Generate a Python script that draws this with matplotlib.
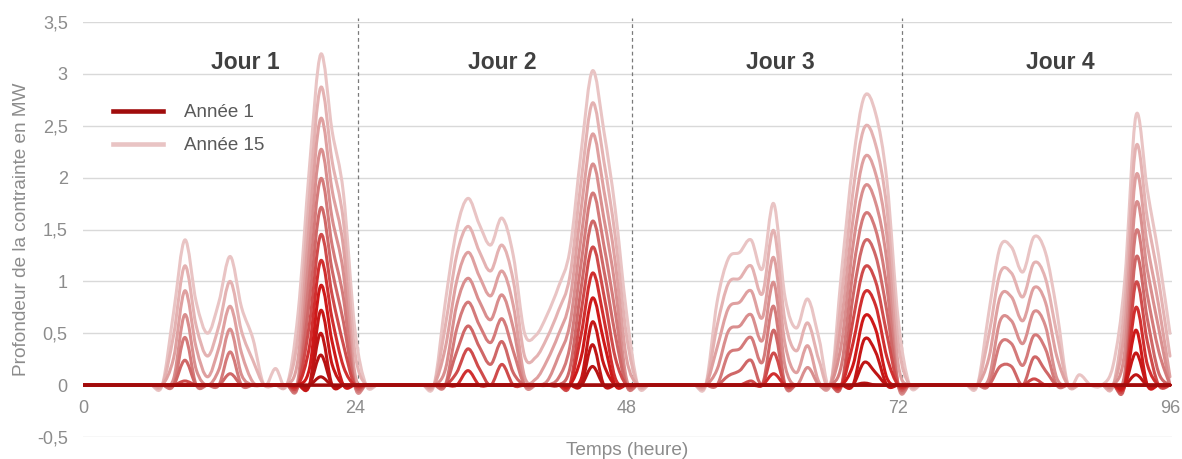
import numpy as np
import matplotlib
matplotlib.use("Agg")
import matplotlib.pyplot as plt
from matplotlib.path import Path
from matplotlib.patches import PathPatch
from matplotlib.lines import Line2D
from matplotlib.colors import LinearSegmentedColormap

plt.rcParams['font.family'] = ['Liberation Sans', 'DejaVu Sans']

# hourly constraint depth (MW) over 4 days, one list per year
heures = list(range(97))

annee_15 = [
    0, 0, 0, 0, 0, 0, 0, 0, 0.70, 1.40, 0.80, 0.50, 0.80, 1.24, 0.75, 0.45, 0, 0.16, 0, 0.70, 2.10, 3.19, 2.45, 1.85,
    0.55, 0, 0, 0, 0, 0, 0, 0, 0.80, 1.50, 1.80, 1.55, 1.35, 1.61, 1.25, 0.50, 0.48, 0.68, 0.95, 1.30, 2.25, 3.03, 2.45, 1.70,
    0.70, 0, 0, 0, 0, 0, 0, 0, 0.80, 1.22, 1.28, 1.40, 1.12, 1.75, 0.85, 0.55, 0.83, 0.45, 0, 1.10, 2.14, 2.78, 2.62, 1.97,
    0.63, 0, 0, 0, 0, 0, 0, 0, 0.70, 1.33, 1.33, 1.09, 1.43, 1.28, 0.72, 0, 0.10, 0, 0, 0.20, 1.00, 2.60, 1.88, 1.25,
    0.50]
annee_14 = [
    0, 0, 0, 0, 0, 0, 0, 0, 0.48, 1.15, 0.57, 0.28, 0.57, 1.00, 0.52, 0.24, 0, 0, 0, 0.48, 1.82, 2.87, 2.16, 1.58,
    0.33, 0, 0, 0, 0, 0, 0, 0, 0.57, 1.25, 1.53, 1.29, 1.10, 1.35, 1.01, 0.28, 0.27, 0.46, 0.72, 1.05, 1.97, 2.72, 2.16, 1.44,
    0.48, 0, 0, 0, 0, 0, 0, 0, 0.57, 0.98, 1.03, 1.15, 0.88, 1.49, 0.62, 0.33, 0.60, 0.24, 0, 0.86, 1.86, 2.48, 2.32, 1.70,
    0.41, 0, 0, 0, 0, 0, 0, 0, 0.48, 1.08, 1.08, 0.85, 1.18, 1.03, 0.50, 0, 0, 0, 0, 0, 0.77, 2.30, 1.61, 1.01,
    0.28]
annee_13 = [
    0, 0, 0, 0, 0, 0, 0, 0, 0.26, 0.91, 0.36, 0.08, 0.36, 0.76, 0.31, 0.03, 0, 0, 0, 0.26, 1.56, 2.57, 1.88, 1.33,
    0.12, 0, 0, 0, 0, 0, 0, 0, 0.36, 1.00, 1.28, 1.05, 0.86, 1.10, 0.77, 0.08, 0.06, 0.24, 0.49, 0.82, 1.70, 2.42, 1.88, 1.19,
    0.26, 0, 0, 0, 0, 0, 0, 0, 0.36, 0.74, 0.80, 0.91, 0.65, 1.23, 0.40, 0.12, 0.38, 0.03, 0, 0.63, 1.59, 2.19, 2.04, 1.44,
    0.20, 0, 0, 0, 0, 0, 0, 0, 0.26, 0.85, 0.85, 0.62, 0.94, 0.80, 0.28, 0, 0, 0, 0, 0, 0.54, 2.02, 1.35, 0.77,
    0.08]
annee_12 = [
    0, 0, 0, 0, 0, 0, 0, 0, 0.06, 0.68, 0.15, 0, 0.15, 0.54, 0.10, 0, 0, 0, 0, 0.06, 1.30, 2.27, 1.61, 1.08,
    0, 0, 0, 0, 0, 0, 0, 0, 0.15, 0.77, 1.03, 0.81, 0.63, 0.87, 0.55, 0, 0, 0.04, 0.28, 0.59, 1.43, 2.13, 1.61, 0.95,
    0.06, 0, 0, 0, 0, 0, 0, 0, 0.15, 0.52, 0.57, 0.68, 0.43, 0.99, 0.19, 0, 0.17, 0, 0, 0.41, 1.34, 1.91, 1.76, 1.19,
    0, 0, 0, 0, 0, 0, 0, 0, 0.06, 0.62, 0.62, 0.40, 0.71, 0.57, 0.07, 0, 0, 0, 0, 0, 0.32, 1.75, 1.11, 0.55,
    0]
annee_11 = [
    0, 0, 0, 0, 0, 0, 0, 0, 0, 0.46, 0, 0, 0, 0.32, 0, 0, 0, 0, 0, 0, 1.05, 1.99, 1.35, 0.84,
    0, 0, 0, 0, 0, 0, 0, 0, 0, 0.54, 0.80, 0.58, 0.41, 0.64, 0.33, 0, 0, 0, 0.07, 0.37, 1.18, 1.85, 1.35, 0.71,
    0, 0, 0, 0, 0, 0, 0, 0, 0, 0.30, 0.35, 0.46, 0.22, 0.76, 0, 0, 0, 0, 0, 0.20, 1.09, 1.64, 1.50, 0.94,
    0, 0, 0, 0, 0, 0, 0, 0, 0, 0.40, 0.40, 0.19, 0.48, 0.35, 0, 0, 0, 0, 0, 0, 0.11, 1.48, 0.87, 0.33,
    0]
annee_10 = [
    0, 0, 0, 0, 0, 0, 0, 0, 0, 0.24, 0, 0, 0, 0.11, 0, 0, 0, 0, 0, 0, 0.82, 1.71, 1.11, 0.61,
    0, 0, 0, 0, 0, 0, 0, 0, 0, 0.32, 0.57, 0.37, 0.20, 0.42, 0.12, 0, 0, 0, 0, 0.16, 0.94, 1.58, 1.11, 0.49,
    0, 0, 0, 0, 0, 0, 0, 0, 0, 0.09, 0.14, 0.24, 0.01, 0.53, 0, 0, 0, 0, 0, 0, 0.85, 1.38, 1.25, 0.71,
    0, 0, 0, 0, 0, 0, 0, 0, 0, 0.18, 0.18, 0, 0.27, 0.14, 0, 0, 0, 0, 0, 0, 0, 1.23, 0.64, 0.12,
    0]
annee_09 = [
    0, 0, 0, 0, 0, 0, 0, 0, 0, 0.04, 0, 0, 0, 0, 0, 0, 0, 0, 0, 0, 0.59, 1.45, 0.87, 0.39,
    0, 0, 0, 0, 0, 0, 0, 0, 0, 0.12, 0.35, 0.16, 0, 0.20, 0, 0, 0, 0, 0, 0, 0.71, 1.33, 0.87, 0.27,
    0, 0, 0, 0, 0, 0, 0, 0, 0, 0, 0, 0.04, 0, 0.31, 0, 0, 0, 0, 0, 0, 0.62, 1.13, 1.00, 0.49,
    0, 0, 0, 0, 0, 0, 0, 0, 0, 0, 0, 0, 0.06, 0, 0, 0, 0, 0, 0, 0, 0, 0.99, 0.42, 0,
    0]
annee_08 = ([0] * 20 + [0.37, 1.20, 0.64, 0.18] + [0] * 10 + [0.14] + [0] * 9 + [0.49, 1.08, 0.64, 0.07]
            + [0] * 13 + [0.11] + [0] * 6 + [0.40, 0.89, 0.77, 0.27] + [0] * 21 + [0.75, 0.20] + [0] * 2)
annee_07 = ([0] * 20 + [0.16, 0.96, 0.42] + [0] * 21 + [0.27, 0.84, 0.42] + [0] * 21
            + [0.19, 0.66, 0.54, 0.07] + [0] * 21 + [0.53] + [0] * 3)
annee_06 = ([0] * 21 + [0.72, 0.20] + [0] * 21 + [0.06, 0.61, 0.20] + [0] * 22 + [0.44, 0.32]
            + [0] * 22 + [0.31] + [0] * 3)
annee_05 = [0] * 21 + [0.50] + [0] * 23 + [0.39] + [0] * 23 + [0.22, 0.12] + [0] * 22 + [0.10] + [0] * 3
annee_04 = [0] * 21 + [0.29] + [0] * 23 + [0.18] + [0] * 23 + [0.02] + [0] * 27
annee_03 = [0] * 21 + [0.08] + [0] * 75
annee_02 = [0] * 97
annee_01 = [0] * 97

annees = [annee_01, annee_02, annee_03, annee_04, annee_05, annee_06, annee_07, annee_08,
          annee_09, annee_10, annee_11, annee_12, annee_13, annee_14, annee_15]

x_ticks = [0, 24, 48, 72, 96]
x_labels = ['0', '24', '48', '72', '96']
y_ticks = [-0.5, 0, 0.5, 1, 1.5, 2, 2.5, 3, 3.5]
y_labels = ['-0,5', '0', '0,5', '1', '1,5', '2', '2,5', '3', '3,5']
jours = ['Jour 1', 'Jour 2', 'Jour 3', 'Jour 4']


def smooth_path(x, y):
    # cubic bezier through every point (smoothed line, like a spreadsheet chart)
    pts = np.column_stack([x, y]).astype(float)
    ext = np.vstack([pts[0], pts, pts[-1]])
    verts = [pts[0]]
    codes = [Path.MOVETO]
    for i in range(len(pts) - 1):
        p0, p1, p2, p3 = ext[i], ext[i + 1], ext[i + 2], ext[i + 3]
        verts += [p1 + (p2 - p0) / 6, p2 - (p3 - p1) / 6, p2]
        codes += [Path.CURVE4] * 3
    return Path(verts, codes)


cmap = LinearSegmentedColormap.from_list(
    'annees', [(0, '#A00C0C'), (0.45, '#D01A1A'), (0.65, '#CF6A6A'), (1, '#E9C4C4')])
couleurs = [cmap(i / 14) for i in range(15)]

W, H = 1182, 459
fig = plt.figure(figsize=(W / 100, H / 100), dpi=100)
ax = fig.add_axes([83 / W, 22 / H, 1089 / W, 415 / H])
ax.set_xlim(0, 96.18)
ax.set_ylim(-0.5, 3.5)

for s in ax.spines.values():
    s.set_visible(False)
ax.spines['bottom'].set_position(('data', 0))

ax.set_yticks(y_ticks)
ax.set_yticklabels(y_labels)
ax.set_xticks(x_ticks)
ax.set_xticklabels(x_labels)
ax.tick_params(length=0, labelsize=13, labelcolor='#8C8C8C')
ax.tick_params(axis='x', pad=11)
ax.tick_params(axis='y', pad=11)
ax.set_axisbelow(True)
ax.grid(axis='y', color='#D9D9D9', lw=1.0)
ax.grid(axis='x', visible=False)

# day separators
ax.vlines([24.25, 48.5, 72.35], 0, 3.54, colors='#7A7A7A', linestyles=(0, (3, 2.5)), lw=0.9, clip_on=False)

# lightest (year 15) at the back, year 1 on top
for k in range(14, -1, -1):
    path = smooth_path(heures, annees[k])
    ax.add_patch(PathPatch(path, fill=False, edgecolor=couleurs[k], lw=2.2,
                           capstyle='round', joinstyle='round', zorder=3 + (14 - k) * 0.01))

for txt, xj in zip(jours, [14.35, 37.0, 61.6, 86.3]):
    ax.text(xj, 3.05, txt, ha='center', va='baseline', fontsize=16.5, fontweight='bold', color='#404040')

handles = [Line2D([], [], color=couleurs[0], lw=3.3),
           Line2D([], [], color=couleurs[14], lw=3.3)]
leg = ax.legend(handles, ['Année 1', 'Année 15'], loc='upper left',
                bbox_to_anchor=(113 / W, 1 - 104 / H), bbox_transform=fig.transFigure,
                frameon=False, borderpad=0, borderaxespad=0, handlelength=2.67,
                handletextpad=1.1, labelspacing=0.85, fontsize=13.5)
for t in leg.get_texts():
    t.set_color('#595959')

ax.set_xlabel('Temps (heure)', fontsize=13.7, color='#8C8C8C')
ax.xaxis.set_label_coords(0.5, -0.012)
ax.set_ylabel('Profondeur de la contrainte en MW', fontsize=13.7, color='#8C8C8C')
ax.yaxis.set_label_coords(-0.049, 0.5)

fig.savefig('out.png', dpi=100)
